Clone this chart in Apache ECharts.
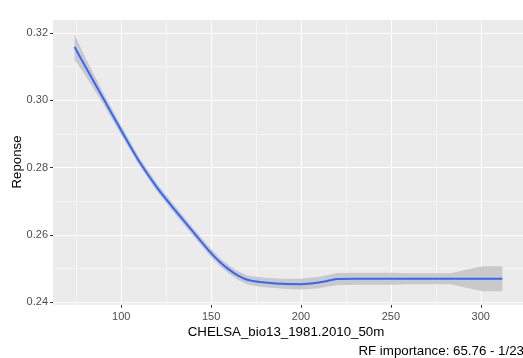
<!DOCTYPE html>
<html>
<head>
<meta charset="utf-8">
<script src="https://cdn.jsdelivr.net/npm/echarts@6/dist/echarts.min.js"></script>
<style>
  html, body { margin: 0; padding: 0; background: #ffffff; }
  #chart { width: 523px; height: 358px; }
</style>
</head>
<body>
<div id="chart"></div>
<script>
// Partial dependence of the response on CHELSA bio13 (smoothed fit with confidence ribbon)
const xs    = [74, 80, 90, 100, 110, 120, 130, 140, 150, 155, 160, 165, 170, 175, 180, 190, 200, 210, 215, 220, 230, 250, 260, 283, 292, 301, 312];
const fit   = [0.3158, 0.3100, 0.3005, 0.2910, 0.2818, 0.2740, 0.2673, 0.2609, 0.2546, 0.2519, 0.2497, 0.2479, 0.2467, 0.2462, 0.2459, 0.2455, 0.2454, 0.2459, 0.2464, 0.2469, 0.2470, 0.2470, 0.2470, 0.2470, 0.2470, 0.2470, 0.2470];
const lower = [0.3121, 0.3073, 0.2988, 0.2896, 0.2806, 0.2728, 0.2661, 0.2597, 0.2534, 0.2507, 0.2485, 0.2466, 0.2454, 0.2448, 0.2445, 0.2440, 0.2438, 0.2442, 0.2447, 0.2451, 0.2452, 0.2452, 0.2454, 0.2454, 0.2443, 0.2433, 0.2433];
const upper = [0.3195, 0.3127, 0.3022, 0.2924, 0.2830, 0.2752, 0.2685, 0.2621, 0.2558, 0.2531, 0.2509, 0.2492, 0.2480, 0.2476, 0.2473, 0.2470, 0.2470, 0.2476, 0.2481, 0.2487, 0.2488, 0.2488, 0.2486, 0.2486, 0.2497, 0.2507, 0.2507];

const xMajor = [100, 150, 200, 250, 300];
const xMinor = [75, 125, 175, 225, 275];
const yMajor = [0.24, 0.26, 0.28, 0.30, 0.32];
const yMinor = [0.25, 0.27, 0.29, 0.31];

const xTitle = 'CHELSA_bio13_1981.2010_50m';
const yTitle = 'Reponse';
const caption = 'RF importance: 65.76 - 1/23';

const FONT = '"Liberation Sans", Arial, sans-serif';
const X_MIN = 62, X_MAX = 323.5;
const Y_MIN = 0.2393, Y_MAX = 0.3238;

const chart = echarts.init(document.getElementById('chart'), null, { renderer: 'canvas' });

// Grid lines as mark lines so they sit exactly on the chosen break values
function gridLines(axisKey, values, color, width) {
  return values.map(v => ({ [axisKey]: v, lineStyle: { color: color, width: width, type: 'solid' } }));
}

const option = {
  animation: false,
  grid: { left: 53, right: 0, top: 20, bottom: 53.3, show: true, backgroundColor: '#EBEBEB', borderWidth: 0 },
  xAxis: {
    type: 'value', min: X_MIN, max: X_MAX,
    axisLine: { show: false },
    axisTick: { show: true, length: 3, customValues: xMajor, lineStyle: { color: '#333333', width: 1 } },
    axisLabel: { customValues: xMajor, formatter: v => String(v), color: '#4D4D4D', fontSize: 11, fontFamily: FONT, margin: 7 },
    splitLine: { show: false }
  },
  yAxis: {
    type: 'value', min: Y_MIN, max: Y_MAX,
    axisLine: { show: false },
    axisTick: { show: true, length: 3, customValues: yMajor, lineStyle: { color: '#333333', width: 1 } },
    axisLabel: { customValues: yMajor, formatter: v => v.toFixed(2), color: '#4D4D4D', fontSize: 11, fontFamily: FONT, margin: 5 },
    splitLine: { show: false }
  },
  series: [
    {
      // panel grid: minor then major lines, kept beneath the data layers
      type: 'line', z: 1, data: [], silent: true,
      markLine: {
        z: 1, silent: true, symbol: ['none', 'none'], label: { show: false }, animation: false,
        data: [].concat(
          gridLines('xAxis', xMinor, '#F5F5F5', 1),
          gridLines('yAxis', yMinor, '#F5F5F5', 1),
          gridLines('xAxis', xMajor, '#FFFFFF', 1.1),
          gridLines('yAxis', yMajor, '#FFFFFF', 1.1)
        )
      }
    },
    {
      // confidence ribbon
      type: 'custom', z: 2, silent: true,
      data: [0],
      renderItem: function (params, api) {
        const top = xs.map((x, i) => api.coord([x, upper[i]]));
        const bot = xs.map((x, i) => api.coord([x, lower[i]])).reverse();
        return {
          type: 'polygon',
          shape: { points: top.concat(bot), smooth: 0 },
          style: { fill: '#C9C9C9', stroke: null }
        };
      }
    },
    {
      type: 'line', z: 3, symbol: 'none', silent: true,
      smooth: 0.2,
      lineStyle: { color: '#3366FF', width: 2 },
      data: xs.map((x, i) => [x, fit[i]])
    }
  ],
  graphic: [
    { type: 'text', x: 286, y: 332, style: { text: xTitle, fill: '#000000', font: '13.3px ' + FONT, textAlign: 'center', textVerticalAlign: 'middle' } },
    { type: 'text', x: 524, y: 351.7, style: { text: caption, fill: '#000000', font: '13.3px ' + FONT, textAlign: 'right', textVerticalAlign: 'middle' } },
    { type: 'text', x: 17, y: 162, rotation: Math.PI / 2, style: { text: yTitle, fill: '#000000', font: '13.3px ' + FONT, textAlign: 'center', textVerticalAlign: 'middle' } }
  ]
};

chart.setOption(option);
</script>
</body>
</html>
